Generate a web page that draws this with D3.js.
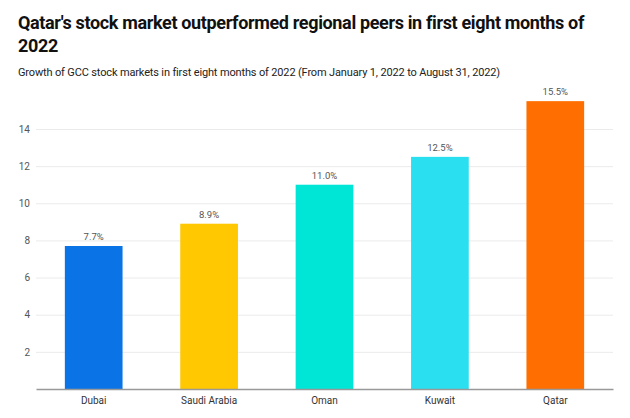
<!DOCTYPE html>
<html><head><meta charset="utf-8">
<script src="https://cdn.jsdelivr.net/npm/d3@7"></script>
<style>body{margin:0;background:#fff;}svg{display:block;font-family:Roboto,"Noto Sans",sans-serif;}</style>
</head><body>
<svg id="chart" width="630" height="418"></svg>
<script>
const categories = ["Dubai", "Saudi Arabia", "Oman", "Kuwait", "Qatar"];
const values = [7.7, 8.9, 11.0, 12.5, 15.5];
const valueLabels = ["7.7%", "8.9%", "11.0%", "12.5%", "15.5%"];
const colors = ["#0a74e6", "#ffc800", "#00e6d6", "#2ae0f0", "#ff6e00"];
const yTicks = [2, 4, 6, 8, 10, 12, 14];

const svg = d3.select("#chart");
const x = d3.scaleBand().domain(categories).range([36, 613]).paddingInner(0.5).paddingOuter(0.25);
const y = d3.scaleLinear().domain([0, 14]).range([389, 129]);

svg.append("text").attr("x", 18).attr("y", 29).attr("font-size", 18).attr("font-weight", 700).attr("fill", "#111")
  .attr("letter-spacing", -0.35)
  .text("Qatar's stock market outperformed regional peers in first eight months of");
svg.append("text").attr("x", 18).attr("y", 52).attr("font-size", 18).attr("font-weight", 700).attr("fill", "#111")
  .attr("letter-spacing", -0.35)
  .text("2022");
svg.append("text").attr("x", 18).attr("y", 76).attr("font-size", 11).attr("fill", "#222")
  .attr("letter-spacing", -0.15)
  .text("Growth of GCC stock markets in first eight months of 2022 (From January 1, 2022 to August 31, 2022)");

const yAxis = svg.append("g").attr("transform", "translate(36,0)")
  .call(d3.axisLeft(y).tickValues(yTicks).tickSize(-577).tickFormat(d3.format("d")));
yAxis.select(".domain").remove();
yAxis.selectAll(".tick line").attr("stroke", "#ebebeb");
yAxis.selectAll(".tick text").attr("x", -6).attr("fill", "#555").attr("font-size", 10).attr("font-family", "Roboto,sans-serif");

svg.selectAll("rect.bar").data(categories).join("rect").attr("class", "bar")
  .attr("x", d => x(d)).attr("width", x.bandwidth())
  .attr("y", (d, i) => y(values[i])).attr("height", (d, i) => y(0) - y(values[i]))
  .attr("fill", (d, i) => colors[i]);

svg.selectAll("text.val").data(categories).join("text").attr("class", "val")
  .attr("x", d => x(d) + x.bandwidth() / 2).attr("y", (d, i) => y(values[i]) - 6)
  .attr("text-anchor", "middle").attr("font-size", 9.5).attr("fill", "#555")
  .text((d, i) => valueLabels[i]);

const xAxis = svg.append("g").attr("transform", "translate(0,389)")
  .call(d3.axisBottom(x).tickSize(0).tickPadding(8));
xAxis.select(".domain").attr("stroke", "#999").attr("stroke-width", 1.5);
xAxis.selectAll(".tick text").attr("fill", "#333").attr("font-size", 10).attr("font-family", "Roboto,sans-serif");
</script>
</body></html>
